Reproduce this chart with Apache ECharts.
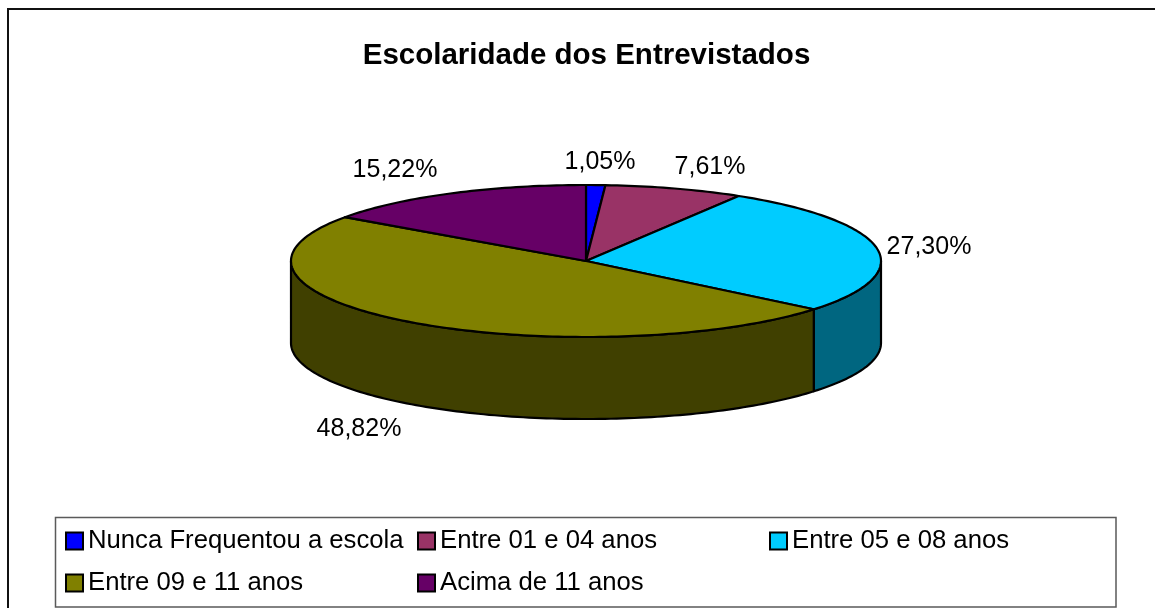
<!DOCTYPE html>
<html>
<head>
<meta charset="utf-8">
<style>
  html, body { margin: 0; padding: 0; background: #fff; }
  #chart { width: 1155px; height: 608px; }
</style>
<script src="https://cdn.jsdelivr.net/npm/echarts@6/dist/echarts.min.js"></script>
</head>
<body>
<div id="chart"></div>
<script>
const categories = ['Nunca Frequentou a escola', 'Entre 01 e 04 anos', 'Entre 05 e 08 anos', 'Entre 09 e 11 anos', 'Acima de 11 anos'];
const values = [1.05, 7.61, 27.3, 48.82, 15.22];
const valueLabels = ['1,05%', '7,61%', '27,30%', '48,82%', '15,22%'];

const TOP_COLORS = ['#0000ff', '#993366', '#00ccff', '#808000', '#660066'];
const WALL_COLORS = ['#000080', '#4d1a33', '#006680', '#404000', '#330033'];
// where each value label sits, Excel placed these by hand more or less
const LABEL_POS = [[600, 162], [710, 167], [929, 247], [359, 429], [395, 170]];
const LEGEND_POS = [[65, 528], [417, 528], [769, 528], [65, 570], [417, 570]];

const FONT = '"Liberation Sans", Arial, sans-serif';
const PIE = { cx: 586, cy: 261, rx: 295, ry: 76, depth: 82 };
const total = values.reduce((sum, v) => sum + v, 0);

function rimPoint(angle, drop = 0) {
  return [PIE.cx + PIE.rx * Math.sin(angle), PIE.cy - PIE.ry * Math.cos(angle) + drop];
}

function arcPoints(from, to, drop = 0) {
  const steps = Math.max(2, Math.ceil((to - from) / 0.02));
  const points = [];
  for (let i = 0; i <= steps; i++) {
    points.push(rimPoint(from + ((to - from) * i) / steps, drop));
  }
  return points;
}

function renderSlice(index) {
  const before = values.slice(0, index).reduce((sum, v) => sum + v, 0);
  const start = (before / total) * Math.PI * 2;
  const end = ((before + values[index]) / total) * Math.PI * 2;
  const lineStyle = { stroke: '#000', lineWidth: 2.2, lineJoin: 'round' };
  const children = [];

  // only the part of the rim facing the viewer gets a wall
  const wallFrom = Math.max(start, Math.PI / 2);
  const wallTo = Math.min(end, (Math.PI * 3) / 2);
  if (wallTo > wallFrom) {
    const wall = arcPoints(wallFrom, wallTo).concat(arcPoints(wallFrom, wallTo, PIE.depth).reverse());
    children.push({
      type: 'polygon',
      shape: { points: wall },
      style: { fill: WALL_COLORS[index], ...lineStyle },
    });
  }

  children.push({
    type: 'polygon',
    shape: { points: [[PIE.cx, PIE.cy]].concat(arcPoints(start, end)) },
    style: { fill: TOP_COLORS[index], ...lineStyle },
  });

  children.push({
    type: 'text',
    style: {
      x: LABEL_POS[index][0],
      y: LABEL_POS[index][1],
      text: valueLabels[index],
      fill: '#000',
      font: `25px ${FONT}`,
      align: 'center',
      verticalAlign: 'middle',
    },
  });

  return { type: 'group', children };
}

const chart = echarts.init(document.getElementById('chart'), null, { renderer: 'canvas' });

chart.setOption({
  animation: false,
  backgroundColor: '#fff',
  title: {
    text: 'Escolaridade dos Entrevistados',
    left: 581.5,
    top: 36,
    textAlign: 'center',
    textStyle: { fontFamily: FONT, fontSize: 29.5, fontWeight: 'bold', color: '#000' },
  },
  graphic: [
    {
      // chart frame, runs off the right and bottom of the photo
      type: 'rect',
      silent: true,
      z: -1,
      shape: { x: 8, y: 9, width: 1200, height: 660 },
      style: { fill: '#fff', stroke: '#111', lineWidth: 2 },
    },
    {
      type: 'rect',
      silent: true,
      z: -1,
      shape: { x: 55.5, y: 517.5, width: 1060.5, height: 89.5 },
      style: { fill: '#fff', stroke: '#5a5a5a', lineWidth: 1.5 },
    },
  ],
  legend: categories.map((name, index) => ({
    data: [name],
    left: LEGEND_POS[index][0],
    top: LEGEND_POS[index][1],
    padding: 0,
    itemWidth: 17,
    itemHeight: 17,
    itemGap: 0,
    icon: 'rect',
    selectedMode: false,
    textStyle: { fontFamily: FONT, fontSize: 25.7, color: '#000', padding: [0, 0, 5, 0] },
  })),
  series: categories.map((name, index) => ({
    type: 'custom',
    name,
    coordinateSystem: 'none',
    silent: true,
    data: [values[index]],
    itemStyle: { color: TOP_COLORS[index], borderColor: '#000', borderWidth: 2 },
    renderItem: () => renderSlice(index),
  })),
});
</script>
</body>
</html>
